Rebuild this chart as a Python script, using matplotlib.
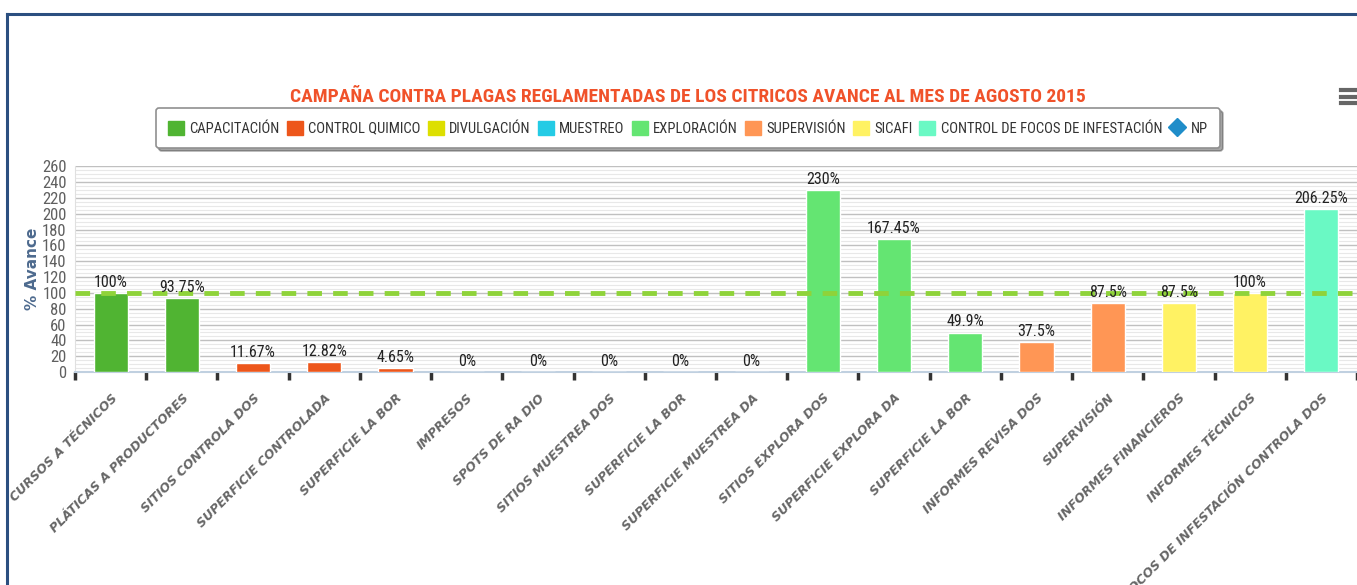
import matplotlib
matplotlib.use("Agg")
import matplotlib.pyplot as plt
from matplotlib import font_manager
from matplotlib.patches import Patch
from matplotlib.lines import Line2D
import numpy as np

categories = ["CURSOS A TÉCNICOS", "PLÁTICAS A PRODUCTORES", "SITIOS CONTROLA DOS",
              "SUPERFICIE CONTROLADA", "SUPERFICIE LA BOR", "IMPRESOS", "SPOTS DE RA DIO",
              "SITIOS MUESTREA DOS", "SUPERFICIE LA BOR", "SUPERFICIE MUESTREA DA",
              "SITIOS EXPLORA DOS", "SUPERFICIE EXPLORA DA", "SUPERFICIE LA BOR",
              "INFORMES REVISA DOS", "SUPERVISIÓN", "INFORMES FINANCIEROS",
              "INFORMES TÉCNICOS", "FOCOS DE INFESTACIÓN CONTROLA DOS"]
values = [100, 93.75, 11.67, 12.82, 4.65, 0, 0, 0, 0, 0,
          230, 167.45, 49.9, 37.5, 87.5, 87.5, 100, 206.25]
value_labels = ["100%", "93.75%", "11.67%", "12.82%", "4.65%", "0%", "0%", "0%", "0%", "0%",
                "230%", "167.45%", "49.9%", "37.5%", "87.5%", "87.5%", "100%", "206.25%"]
series_names = ["CAPACITACIÓN", "CONTROL QUIMICO", "DIVULGACIÓN", "MUESTREO", "EXPLORACIÓN",
                "SUPERVISIÓN", "SICAFI", "CONTROL DE FOCOS DE INFESTACIÓN"]
series_colors = ["#50B432", "#ED561B", "#DDDF00", "#24CBE5", "#64E572", "#FF9655", "#FFF263", "#6AF9C4"]
bar_series = [0, 0, 1, 1, 1, 2, 2, 3, 3, 3, 4, 4, 4, 5, 5, 6, 6, 7]
target = 100
yticks = list(range(0, 261, 20))

# choose a condensed font if one is installed
names = {f.name for f in font_manager.fontManager.ttflist}
narrow_family = None
scale = 1.0
for cand in ["Roboto Condensed", "Liberation Sans Narrow", "Open Sans Condensed", "DejaVu Sans Condensed"]:
    if cand in names:
        narrow_family = cand
        break
if narrow_family is None:
    narrow_family = "Roboto"
    scale = 0.88
NF = [narrow_family, "DejaVu Sans"]
plt.rcParams["font.family"] = NF

fig = plt.figure(figsize=(13.57, 5.85), dpi=100)
ax = fig.add_axes([0.0553, 0.364, 0.9447, 0.352])

x = np.arange(len(categories))
colors = [series_colors[s] for s in bar_series]
ax.bar(x, values, width=0.48, color=colors, edgecolor="white", linewidth=1, zorder=3)
for xi, v, lab in zip(x, values, value_labels):
    ax.text(xi, v + 4, lab, ha="center", va="bottom", fontsize=11.5 * scale, color="#222222", zorder=5)

ax.axhline(target, color="#8FD33A", linestyle=(0, (3, 2.3)), linewidth=3.5, zorder=4)

ax.set_xlim(-0.5, len(categories) - 0.5)
ax.set_ylim(0, 260)
ax.set_yticks(yticks)
ax.set_yticks(np.arange(0, 261, 5), minor=True)
ax.grid(axis="y", which="major", color="#C0C0C0", linewidth=1, zorder=0)
ax.grid(axis="y", which="minor", color="#E8E8E8", linewidth=0.8, zorder=0)
ax.set_facecolor("white")
for s in ["top", "right"]:
    ax.spines[s].set_visible(False)
ax.spines["left"].set_color("#E0E0E0")
ax.spines["bottom"].set_color("#C0D0E0")
ax.spines["bottom"].set_linewidth(1.5)

ax.tick_params(axis="y", which="both", length=0, labelsize=12 * scale, labelcolor="#606060", pad=6)
ax.set_xticks(np.arange(len(categories) + 1) - 0.5, minor=False)
ax.set_xticklabels([])
ax.tick_params(axis="x", which="major", length=6, width=2.5, color="#333333", direction="out")
ax.set_xticks(x, minor=True)
ax.set_xticklabels(categories, minor=True, rotation=45, ha="right", va="top",
                   rotation_mode="anchor", fontsize=9, fontstyle="italic", fontweight="bold",
                   color="#666666", family=["DejaVu Sans"])
ax.tick_params(axis="x", which="minor", length=0, pad=14)

ax.set_ylabel("% Avance", fontsize=11, fontweight="bold", color="#4D6A8E", family=["DejaVu Sans"])
ax.yaxis.set_label_coords(-0.027, 0.5)

fig.text(0.507, 0.834, "CAMPAÑA CONTRA PLAGAS REGLAMENTADAS DE LOS CITRICOS AVANCE AL MES DE AGOSTO 2015",
         ha="center", va="center", fontsize=14 * scale, fontweight="bold", color="#F0522A")

handles = [Patch(facecolor=c, edgecolor=c, label=n) for n, c in zip(series_names, series_colors)]
handles.append(Line2D([], [], marker="D", linestyle="none", markersize=9, color="#1F8DC9", label="NP"))
leg = fig.legend(handles=handles, loc="center", bbox_to_anchor=(0.507, 0.781), ncol=9,
                 fontsize=10.5 * scale, frameon=True, fancybox=True, shadow=True, handlelength=1.1,
                 handleheight=1.15, handletextpad=0.35, columnspacing=0.5, borderpad=0.85)
leg.get_frame().set_edgecolor("#909090")
leg.get_frame().set_linewidth(1.2)
for t in leg.get_texts():
    t.set_color("#333333")

# page frame
fig.add_artist(Line2D([0.0055, 0.0055], [0, 0.976], color="#2B4F80", linewidth=2.2, transform=fig.transFigure))
fig.add_artist(Line2D([0.0055, 1.0], [0.976, 0.976], color="#2B4F80", linewidth=2.2, transform=fig.transFigure))
# menu icon
for yy in [0.846, 0.835, 0.824]:
    fig.add_artist(Line2D([0.9885, 1.0], [yy, yy], color="#666666", linewidth=3, transform=fig.transFigure))

fig.savefig("out.png", dpi=100, facecolor="white")
